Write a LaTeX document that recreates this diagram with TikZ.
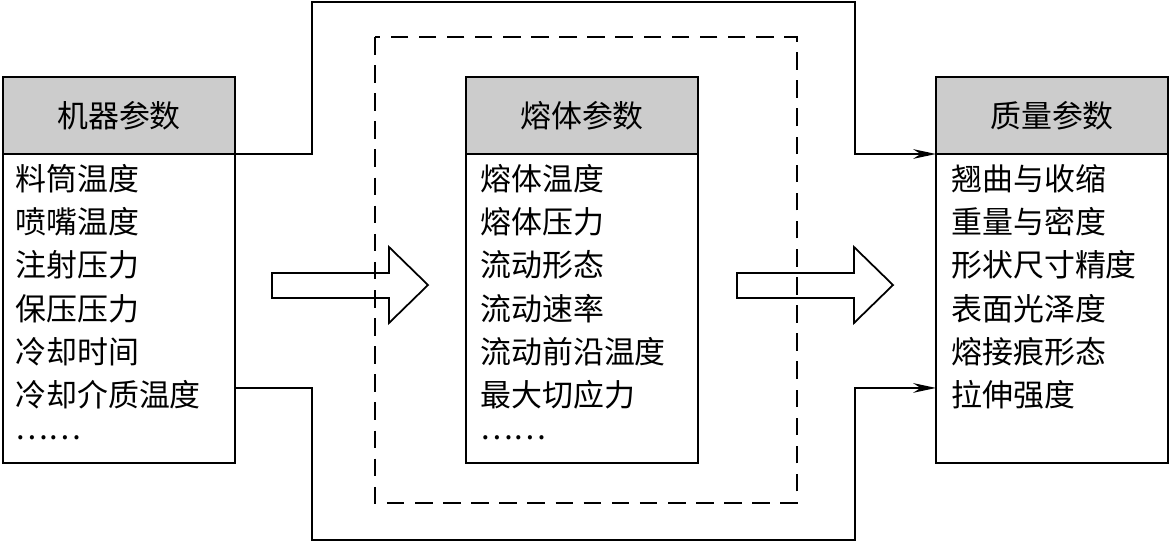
\documentclass[tikz,border=0pt]{standalone}
\usepackage{fontspec}
\usepackage{tikz}
\usetikzlibrary{positioning,arrows.meta}
\newfontfamily\cjk{Noto Sans CJK SC}
\definecolor{hgray}{RGB}{204,204,204}
\newcommand{\mdots}{\raisebox{0.33em}{……}}
\tikzset{
  hd/.style={rectangle, draw, line width=1.6pt, fill=hgray, outer sep=0pt, inner sep=0pt, minimum width=4.64cm, minimum height=1.54cm, font=\cjk\fontsize{17.6}{20}\selectfont},
  bd/.style={rectangle, draw, line width=1.6pt, outer sep=0pt, inner sep=0pt, minimum width=4.64cm, minimum height=6.18cm},
  lst/.style={anchor=north west, align=left, inner sep=0pt, font=\cjk\fontsize{17.6}{24.6}\selectfont},
  ar/.style={-{Stealth[length=13pt, width=5.5pt]}, line width=1pt},
  fa/.style={line width=1pt, line join=miter},
  dbox/.style={line width=1pt, dash pattern=on 10pt off 6pt}
}

\begin{document}
\begin{tikzpicture}[x=0.02cm, y=-0.02cm]
  \useasboundingbox (0,0) rectangle (1171,542);
  % boxes
  \node[hd] (mh) at (119,115.5) {机器参数};
  \node[bd, below=0pt of mh] (mb) {};
  \node[hd] (rh) at (582,115.5) {熔体参数};
  \node[bd, below=0pt of rh] (rb) {};
  \node[hd] (qh) at (1052,115.5) {质量参数};
  \node[bd, below=0pt of qh] (qb) {};
  \node[lst] (ml) at (15,164) {料筒温度\\喷嘴温度\\注射压力\\保压压力\\冷却时间\\冷却介质温度\\\mdots};
  \node[lst] (rl) at (480,164) {熔体温度\\熔体压力\\流动形态\\流动速率\\流动前沿温度\\最大切应力\\\mdots};
  \node[lst] (ql) at (951,164) {翘曲与收缩\\重量与密度\\形状尺寸精度\\表面光泽度\\熔接痕形态\\拉伸强度};
  % dashed frame
  \draw[dbox] (375,37) rectangle (797,503);
  % outer links
  \coordinate (t1) at (312,2);
  \coordinate (t2) at (855,2);
  \coordinate (b1) at (312,540);
  \coordinate (b2) at (855,540);
  \draw[ar] (mb.north east) -| (t1) -- (t2) |- (qb.north west);
  \draw[ar] ([yshift=1.5cm]mb.south east) -| (b1) -- (b2) |- ([yshift=1.5cm]qb.south west);
  % hollow arrows
  \foreach \x in {272,737}
    \draw[fa] (\x,273) -- ++(117,0) -- ++(0,-26) -- ++(39,38) -- ++(-39,38) -- ++(0,-25) -- ++(-117,0) -- cycle;
\end{tikzpicture}
\end{document}
